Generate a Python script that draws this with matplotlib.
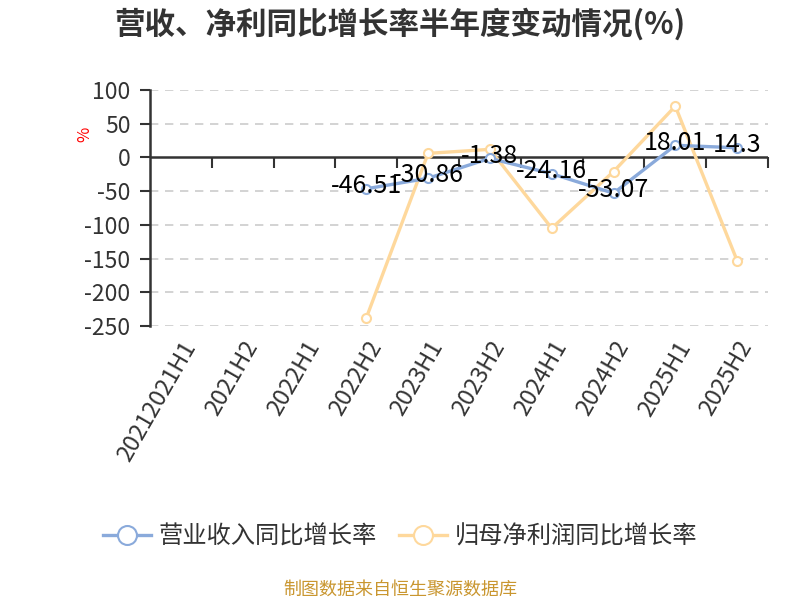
import numpy as np
import matplotlib
matplotlib.use("Agg")
import matplotlib.pyplot as plt

plt.rcParams['font.family'] = ['Noto Sans CJK SC', 'DejaVu Sans']
plt.rcParams['axes.unicode_minus'] = False

# 半年度数据
periods = ["20212021H1", "2021H2", "2022H1", "2022H2", "2023H1",
           "2023H2", "2024H1", "2024H2", "2025H1", "2025H2"]
revenue_yoy = [np.nan, np.nan, np.nan, -46.51, -30.86,
               -1.38, -24.16, -53.07, 18.01, 14.3]
profit_yoy = [np.nan, np.nan, np.nan, -238, 6,
              12, -105, -21, 76, -153]
y_ticks = [100, 50, 0, -50, -100, -150, -200, -250]

blue = '#8aaadb'
orange = '#fed89c'
dark = '#333333'

fig = plt.figure(figsize=(8, 6), dpi=100)
ax = fig.add_axes([0.1875, 0.4567, 0.7725, 0.3933])

x = np.arange(len(periods))

ax.plot(x, revenue_yoy, color=blue, lw=2.4, marker='o', ms=6.5,
        mfc='white', mec=blue, mew=1.5, zorder=4, label='营业收入同比增长率')
ax.plot(x, profit_yoy, color=orange, lw=2.4, marker='o', ms=6.5,
        mfc='white', mec=orange, mew=1.5, zorder=3, label='归母净利润同比增长率')

for xi, v in zip(x, revenue_yoy):
    if np.isnan(v):
        continue
    ax.annotate(f"{v:g}", (xi, v), xytext=(0, 2), textcoords='offset points',
                ha='center', va='center', fontsize=18, color='black', zorder=6)

ax.set_xlim(-0.5, len(periods) - 0.5)
ax.set_ylim(-250, 100)
ax.set_yticks(y_ticks)
ax.tick_params(axis='y', length=7, width=1.5, color=dark, labelsize=16.5,
               labelcolor=dark, pad=7)
ax.set_xticks(x)
ax.set_xticklabels(periods, rotation=60, ha='right', va='top',
                   rotation_mode='anchor', fontsize=17, color=dark)
ax.tick_params(axis='x', length=0, pad=8)

for s in ['top', 'right', 'bottom']:
    ax.spines[s].set_visible(False)
ax.spines['left'].set_color(dark)
ax.spines['left'].set_linewidth(1.8)

for yt in y_ticks:
    if yt != 0:
        ax.axhline(yt, color='#cccccc', lw=1.2, ls=(0, (5, 4)), zorder=1)
ax.axhline(0, color=dark, lw=1.8, zorder=2)
ax.plot(x + 0.5, np.zeros(len(x)), ls='none', marker=3, ms=8,
        mew=1.5, color=dark, zorder=2, clip_on=False)

ax.text(-0.105, 0.81, '%', transform=ax.transAxes, rotation=90,
        color='red', fontsize=12, ha='center', va='center')

fig.text(0.5, 0.96, '营收、净利同比增长率半年度变动情况(%)', ha='center',
         va='center', fontsize=22, fontweight='bold', color=dark)

leg = fig.legend(loc='center', bbox_to_anchor=(0.5, 0.105), ncol=2,
                 frameon=False, fontsize=17.5, handlelength=2.0,
                 columnspacing=0.9, handletextpad=0.3, markerscale=2.1)
for t in leg.get_texts():
    t.set_color(dark)

fig.text(0.5, 0.017, '制图数据来自恒生聚源数据库', ha='center', va='center',
         fontsize=13, color='#c9962f')

fig.savefig('out.png', dpi=100)
